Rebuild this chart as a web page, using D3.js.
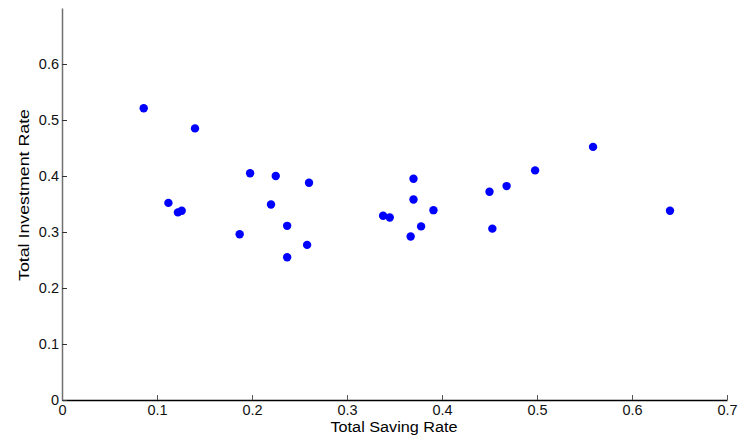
<!DOCTYPE html>
<html>
<head>
<meta charset="utf-8">
<script src="https://cdn.jsdelivr.net/npm/d3@7"></script>
<style>
  body { margin: 0; background: #fff; }
  text { font-family: "Liberation Sans", Arial, sans-serif; }
</style>
</head>
<body>
<div id="chart"></div>
<script>
// saving rate vs investment rate
var savingRate = [0.086, 0.140, 0.198, 0.225, 0.260, 0.112, 0.122, 0.126, 0.220, 0.237,
                  0.187, 0.258, 0.237, 0.559, 0.498, 0.468, 0.450, 0.370, 0.370, 0.391,
                  0.338, 0.345, 0.378, 0.367, 0.453, 0.640];
var investmentRate = [0.521, 0.485, 0.405, 0.400, 0.388, 0.352, 0.335, 0.338, 0.349, 0.311,
                      0.296, 0.277, 0.255, 0.452, 0.410, 0.382, 0.372, 0.395, 0.358, 0.339,
                      0.329, 0.326, 0.310, 0.292, 0.306, 0.338];
var xTicks = [0, 0.1, 0.2, 0.3, 0.4, 0.5, 0.6, 0.7];
var yTicks = [0, 0.1, 0.2, 0.3, 0.4, 0.5, 0.6];

var width = 741, height = 443;
var margin = {top: 8, right: 14, bottom: 43, left: 62};

var svg = d3.select("#chart").append("svg")
    .attr("width", width)
    .attr("height", height);

var x = d3.scaleLinear().domain([0, 0.7]).range([margin.left, width - margin.right]);
var y = d3.scaleLinear().domain([0, 0.7]).range([height - margin.bottom, margin.top]);

var fmt = function(d) { return d === 0 ? "0" : d3.format(".1f")(d); };

// x axis, ticks pointing inward
var xAxis = svg.append("g")
    .attr("transform", "translate(0," + y(0) + ")")
    .call(d3.axisBottom(x).tickValues(xTicks).tickSizeInner(-5).tickSizeOuter(0).tickPadding(5).tickFormat(fmt));
xAxis.select(".domain").attr("stroke", "#000").attr("stroke-width", 1.5);
xAxis.selectAll(".tick line").attr("stroke", "#555");
xAxis.selectAll("text").attr("font-size", 14.5).attr("fill", "#111");

// y axis
var yAxis = svg.append("g")
    .attr("transform", "translate(" + x(0) + ",0)")
    .call(d3.axisLeft(y).tickValues(yTicks).tickSizeInner(-5).tickSizeOuter(0).tickPadding(3).tickFormat(fmt));
yAxis.select(".domain").attr("stroke", "#707070").attr("stroke-width", 1.5);
yAxis.selectAll(".tick line").attr("stroke", "#333");
yAxis.selectAll("text").attr("font-size", 14.5).attr("fill", "#111");

// labels
svg.append("text")
    .attr("x", 394)
    .attr("y", 432)
    .attr("text-anchor", "middle")
    .attr("font-size", 14)
    .attr("textLength", 127)
    .attr("lengthAdjust", "spacingAndGlyphs")
    .text("Total Saving Rate");

svg.append("text")
    .attr("transform", "translate(29,195) rotate(-90)")
    .attr("text-anchor", "middle")
    .attr("font-size", 14)
    .attr("textLength", 172)
    .attr("lengthAdjust", "spacingAndGlyphs")
    .text("Total Investment Rate");

// dots
svg.selectAll("circle.dot")
    .data(savingRate)
    .enter()
    .append("circle")
    .attr("class", "dot")
    .attr("cx", function(d) { return x(d); })
    .attr("cy", function(d, i) { return y(investmentRate[i]); })
    .attr("r", 4.2)
    .style("fill", "#0000ff");
</script>
</body>
</html>
